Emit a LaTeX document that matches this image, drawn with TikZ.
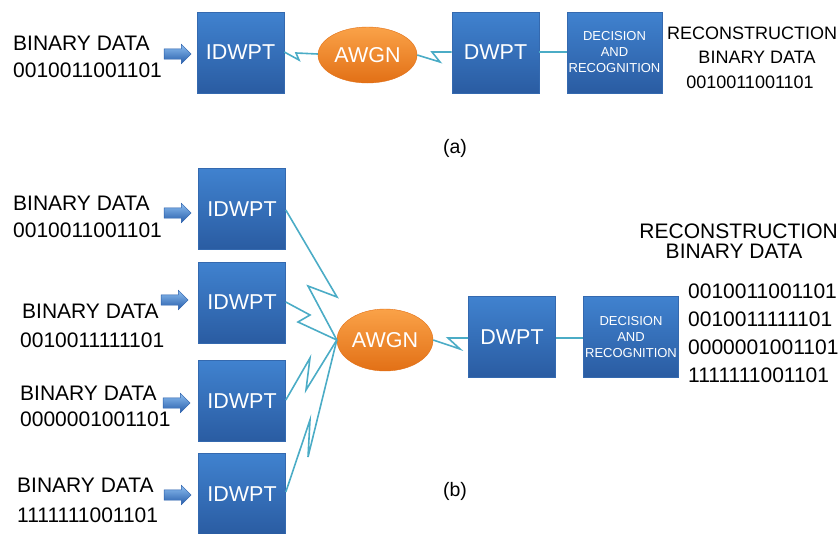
\documentclass[tikz,border=0pt]{standalone}
\usepackage{fontspec}
\setmainfont{Liberation Sans}
\usetikzlibrary{shapes.geometric,shapes.arrows}
\definecolor{boxtop}{RGB}{64,130,207}
\definecolor{boxbot}{RGB}{42,92,162}
\definecolor{boxedge}{RGB}{52,105,175}
\definecolor{ortop}{RGB}{250,162,72}
\definecolor{orbot}{RGB}{226,112,22}
\definecolor{zzc}{RGB}{75,172,198}
\definecolor{artop}{RGB}{140,190,240}
\definecolor{arbot}{RGB}{38,92,170}
\tikzset{
  blk/.style={rectangle, minimum width=87, minimum height=81, inner sep=0,
    top color=boxtop, bottom color=boxbot, draw=boxedge, line width=0.6pt,
    text=white, font=\fontsize{21.5}{25}\selectfont},
  decbox/.style={blk, minimum width=95, align=center,
    font=\fontsize{13}{16}\selectfont},
  noise/.style={ellipse, inner sep=0, top color=ortop, bottom color=orbot,
    draw=orbot, line width=0.4pt, text=white, font=\fontsize{21.5}{25}\selectfont},
  bolt/.style={draw=zzc, line width=1.6pt, line join=miter},
  inarrow/.style={single arrow, minimum height=27, minimum width=19,
    inner sep=5pt, single arrow head extend=4.5pt,
    top color=artop, bottom color=arbot, draw=arbot, line width=0.4pt},
  lbl/.style={font=\fontsize{21}{25}\selectfont, inner sep=0, anchor=west},
  rlbl/.style={font=\fontsize{18}{22}\selectfont, inner sep=0},
  sublabel/.style={font=\fontsize{19.5}{22}\selectfont, inner sep=0}
}
\begin{document}
\begin{tikzpicture}[x=1pt,y=-1pt]
\useasboundingbox (0,0) rectangle (840,533);

% ---------------- (a) ----------------
\node[lbl] (abin) at (13,43.5) {BINARY DATA};
\node[lbl] (adig) at (13,70) {0010011001101};
\node[inarrow] (aar) at (175,54) {};
\node[blk] (aid) at (240.5,52.5) {IDWPT};
\node[noise, minimum width=99, minimum height=56] (aawgn) at (367.5,55) {AWGN};
\node[blk] (adw) at (495.5,52.5) {DWPT};
\node[decbox] (adec) at (614.5,52.5) {DECISION\\AND\\RECOGNITION};
\node[rlbl] (arec) at (752,33) {RECONSTRUCTION};
\node[rlbl] (arbin) at (757,57) {BINARY DATA};
\node[rlbl] (ardig) at (750,82) {0010011001101};
\node[sublabel] (alab) at (455,148) {(a)};

\draw[bolt] (aid.east |- 0,52) -- (299,60) -- (296,53) -- (aawgn.west |- 0,54);
\draw[bolt] (aawgn.east) -- (440,62) -- (432,52) -- (adw.west |- 0,52);
\draw[bolt] (adw.east |- 0,52) -- (adec.west |- 0,52);

% ---------------- (b) ----------------
\node[lbl] (b1bin) at (13,203.5) {BINARY DATA};
\node[lbl] (b1dig) at (13,230) {0010011001101};
\node[inarrow] (b1ar) at (175,213) {};
\node[lbl] (b2bin) at (22,311.5) {BINARY DATA};
\node[lbl] (b2dig) at (20,340) {0010011111101};
\node[inarrow] (b2ar) at (172,300) {};
\node[lbl] (b3bin) at (20,393.5) {BINARY DATA};
\node[lbl] (b3dig) at (20,419) {0000001001101};
\node[inarrow] (b3ar) at (174,403) {};
\node[lbl] (b4bin) at (17,485) {BINARY DATA};
\node[lbl] (b4dig) at (17,515) {1111111001101};
\node[inarrow] (b4ar) at (175,495) {};

\node[blk] (b1) at (242,209) {IDWPT};
\node[blk] (b2) at (242,302.5) {IDWPT};
\node[blk] (b3) at (242,401) {IDWPT};
\node[blk] (b4) at (242,494) {IDWPT};

\node[noise, minimum width=96, minimum height=62] (bawgn) at (385,340) {AWGN};
\node[blk] (bdw) at (512,337) {DWPT};
\node[decbox] (bdec) at (631,337) {DECISION\\AND\\RECOGNITION};

\node[font=\fontsize{21}{25}\selectfont, inner sep=0, anchor=east] (brec) at (838,231) {RECONSTRUCTION};
\node[font=\fontsize{21}{25}\selectfont, inner sep=0] (brbin) at (734,251) {BINARY DATA};
\node[lbl] (bd1) at (688,291) {0010011001101};
\node[lbl] (bd2) at (688,319) {0010011111101};
\node[lbl] (bd3) at (688,347) {0000001001101};
\node[lbl] (bd4) at (688,375) {1111111001101};
\node[sublabel] (blab) at (455,491) {(b)};

\draw[bolt] (b1.east |- 0,210) -- (337,297) -- (308,286) -- (bawgn.west);
\draw[bolt] (b2.east |- 0,302) -- (310,315) -- (298,322) -- (bawgn.west);
\draw[bolt] (b3.east |- 0,400) -- (310,358) -- (306,390) -- (bawgn.west);
\draw[bolt] (b4.east |- 0,492) -- (310,420) -- (308,457) -- (bawgn.west);
\draw[bolt] (bawgn.east) -- (460,349) -- (448,338) -- (bdw.west |- 0,338);
\draw[bolt] (bdw.east |- 0,338) -- (bdec.west |- 0,338);
\end{tikzpicture}
\end{document}
